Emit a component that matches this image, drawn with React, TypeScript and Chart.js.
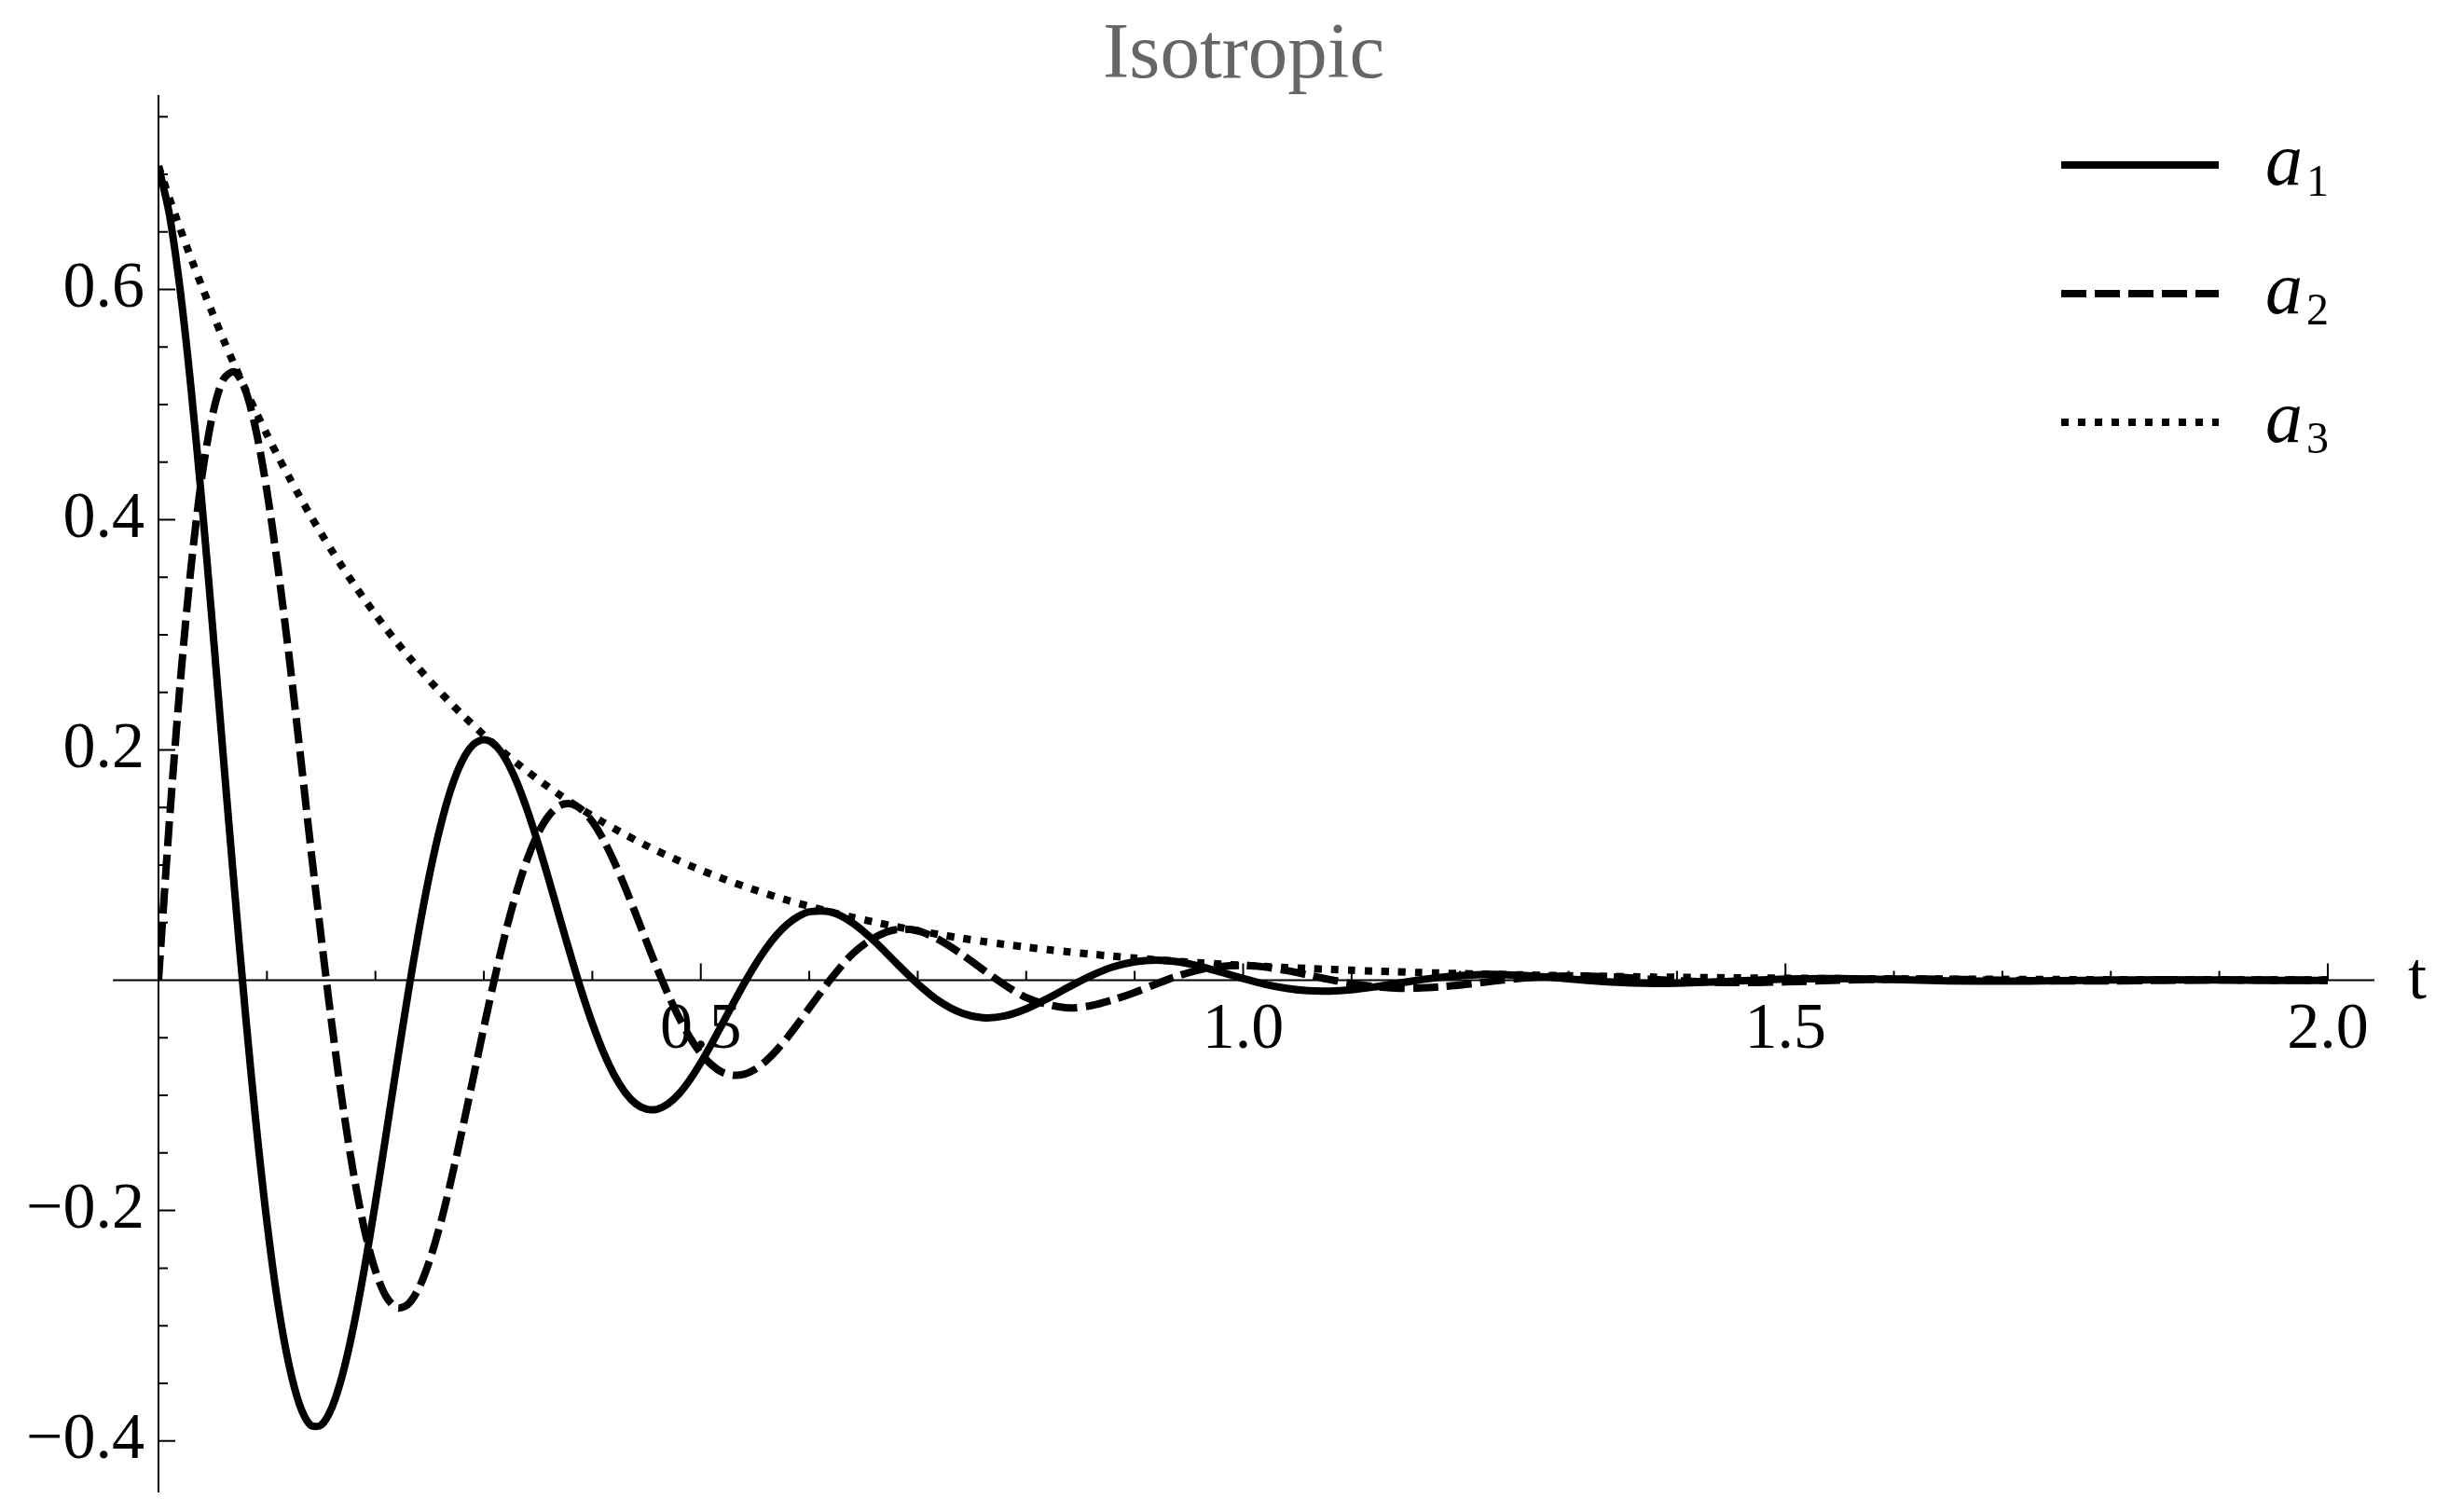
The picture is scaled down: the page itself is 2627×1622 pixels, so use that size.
import React, { useEffect, useRef } from 'react';
import { Chart, registerables } from 'chart.js';

Chart.register(...registerables);

// sample times read along the t axis (denser where the curves swing hardest)
const tValues = [
  0, 0.01, 0.02, 0.03, 0.04, 0.05, 0.06, 0.07, 0.08, 0.09,
  0.1, 0.11, 0.12, 0.13, 0.14, 0.15, 0.16, 0.17, 0.18, 0.19,
  0.2, 0.21, 0.22, 0.23, 0.24, 0.25, 0.26, 0.27, 0.28, 0.29,
  0.3, 0.31, 0.32, 0.33, 0.34, 0.35, 0.36, 0.37, 0.38, 0.39,
  0.4, 0.41, 0.42, 0.43, 0.44, 0.45, 0.46, 0.47, 0.48, 0.49,
  0.5, 0.51, 0.52, 0.53, 0.54, 0.55, 0.56, 0.57, 0.58, 0.59,
  0.6, 0.62, 0.64, 0.66, 0.68, 0.7, 0.72, 0.74, 0.76, 0.78,
  0.8, 0.82, 0.84, 0.86, 0.88, 0.9, 0.92, 0.94, 0.96, 0.98,
  1.0, 1.02, 1.04, 1.06, 1.08, 1.1, 1.12, 1.14, 1.16, 1.18,
  1.2, 1.22, 1.24, 1.26, 1.28, 1.3, 1.32, 1.34, 1.36, 1.38,
  1.4, 1.45, 1.5, 1.55, 1.6, 1.65, 1.7, 1.75, 1.8, 1.85,
  1.9, 1.95, 2.0,
];

const a1Values = [
  0.707, 0.6655, 0.5996, 0.5144, 0.4147, 0.3057, 0.1914, 0.0798, -0.0273, -0.125,
  -0.21, -0.2801, -0.3326, -0.3684, -0.3862, -0.3863, -0.3708, -0.3413, -0.3, -0.2496,
  -0.1931, -0.1328, -0.0715, -0.0122, 0.043, 0.0923, 0.1338, 0.167, 0.1905, 0.2045,
  0.209, 0.2046, 0.1922, 0.1728, 0.1478, 0.1187, 0.0871, 0.054, 0.0216, -0.0094,
  -0.0375, -0.062, -0.082, -0.0971, -0.1072, -0.112, -0.1119, -0.1072, -0.0985, -0.0863,
  -0.0716, -0.0551, -0.0377, -0.0199, -0.0027, 0.0132, 0.0274, 0.0394, 0.0488, 0.0555,
  0.0595, 0.0592, 0.0498, 0.034, 0.0152, -0.0031, -0.0183, -0.0283, -0.0325, -0.031,
  -0.0248, -0.0157, -0.0055, 0.004, 0.0116, 0.0161, 0.0175, 0.0161, 0.0122, 0.007,
  0.0016, -0.0034, -0.007, -0.0091, -0.0094, -0.0082, -0.0059, -0.003, -0.0001, 0.0024,
  0.0042, 0.005, 0.005, 0.0041, 0.0028, 0.0012, -0.0003, -0.0016, -0.0024, -0.0027,
  -0.0026, -0.0009, 0.001, 0.0014, 0.0006, -0.0005, -0.0008, -0.0004, 0.0002, 0.0004,
  0.0002, -0.0001, -0.0002,
];

const a2Values = [
  0, 0.137, 0.2578, 0.3587, 0.4373, 0.4917, 0.5222, 0.5284, 0.5128, 0.4773,
  0.4249, 0.3591, 0.2844, 0.2025, 0.1183, 0.0375, -0.0396, -0.1091, -0.1688, -0.2169,
  -0.2524, -0.2749, -0.2845, -0.2815, -0.2674, -0.2433, -0.2112, -0.1727, -0.1301, -0.0856,
  -0.0409, 0.002, 0.0415, 0.0763, 0.1053, 0.1277, 0.1432, 0.1517, 0.1532, 0.1483,
  0.1378, 0.1224, 0.1032, 0.0813, 0.0576, 0.0334, 0.0097, -0.0125, -0.0325, -0.0497,
  -0.0635, -0.0735, -0.08, -0.0825, -0.0816, -0.0773, -0.0701, -0.0606, -0.0495, -0.0371,
  -0.0242, 0.0012, 0.023, 0.037, 0.044, 0.043, 0.035, 0.023, 0.0093, -0.0039,
  -0.015, -0.021, -0.024, -0.022, -0.017, -0.0106, -0.0031, 0.0038, 0.0091, 0.0121,
  0.0129, 0.0115, 0.0085, 0.0046, 0.0006, -0.0029, -0.0054, -0.0068, -0.0068, -0.0058,
  -0.0041, -0.0019, 0.0002, 0.002, 0.0032, 0.0037, 0.0036, 0.0029, 0.0019, 0.0007,
  -0.0004, -0.002, -0.0014, 0.0001, 0.001, 0.0008, 0, -0.0005, -0.0005, -0.0001,
  0.0003, 0.0003, 0.0001,
];

const a3Values = [
  0.7071, 0.6794, 0.6527, 0.6271, 0.6026, 0.579, 0.5562, 0.5344, 0.5135, 0.4934,
  0.474, 0.4554, 0.4376, 0.4204, 0.4039, 0.3881, 0.3729, 0.3583, 0.3442, 0.3307,
  0.3178, 0.3053, 0.2933, 0.2818, 0.2708, 0.2602, 0.25, 0.2402, 0.2307, 0.2217,
  0.213, 0.2046, 0.1966, 0.1889, 0.1815, 0.1744, 0.1676, 0.161, 0.1547, 0.1486,
  0.1428, 0.1372, 0.1318, 0.1266, 0.1217, 0.1169, 0.1123, 0.1079, 0.1037, 0.0996,
  0.0957, 0.0919, 0.0884, 0.0849, 0.0816, 0.0784, 0.0753, 0.0723, 0.0695, 0.0668,
  0.0642, 0.0592, 0.0547, 0.0505, 0.0466, 0.043, 0.0397, 0.0366, 0.0338, 0.0312,
  0.0288, 0.0266, 0.0246, 0.0227, 0.0209, 0.0193, 0.0178, 0.0165, 0.0152, 0.014,
  0.013, 0.012, 0.011, 0.0102, 0.0094, 0.0087, 0.008, 0.0074, 0.0068, 0.0063,
  0.0058, 0.0054, 0.005, 0.0046, 0.0042, 0.0039, 0.0036, 0.0033, 0.0031, 0.0028,
  0.0026, 0.0021, 0.0018, 0.0014, 0.0012, 0.001, 0.0008, 0.0006, 0.0005, 0.0004,
  0.0004, 0.0003, 0.0002,
];

const seriesLabels = ['a1', 'a2', 'a3'];
const chartTitle = 'Isotropic';
const xAxisLabel = 't';

const xTickValues = [0.5, 1.0, 1.5, 2.0];
const xTickLabels = ['0.5', '1.0', '1.5', '2.0'];
const xTickMarks = [
  0.1, 0.2, 0.3, 0.4, 0.5, 0.6, 0.7, 0.8, 0.9, 1.0,
  1.1, 1.2, 1.3, 1.4, 1.5, 1.6, 1.7, 1.8, 1.9, 2.0,
];

const yTickValues = [-0.4, -0.2, 0.2, 0.4, 0.6];
const yTickLabels = ['\u22120.4', '\u22120.2', '0.2', '0.4', '0.6'];
const yTickMarks = [
  -0.4, -0.35, -0.3, -0.25, -0.2, -0.15, -0.1, -0.05,
  0.05, 0.1, 0.15, 0.2, 0.25, 0.3, 0.35, 0.4, 0.45, 0.5, 0.55, 0.6, 0.65, 0.7, 0.75,
];

const X_MIN = 0;
const X_MAX = 2.043;
const X_AXIS_START = -0.042;
const Y_MIN = -0.444;
const Y_MAX = 0.768;

const SERIF = '"Liberation Serif", "Times New Roman", serif';

const dashes: number[][] = [[], [27, 9], [8, 10]];

// Mathematica-style decorations: inward ticks, title, axis label "t", legend with subscripts
const axisDecor = {
  id: 'axisDecor',
  beforeDatasetsDraw(chart: Chart) {
    const { ctx, chartArea, scales } = chart;
    const xs = scales.x;
    const ys = scales.y;
    const y0 = ys.getPixelForValue(0);
    ctx.save();
    ctx.strokeStyle = '#000';
    ctx.lineWidth = 2;
    ctx.beginPath();
    ctx.moveTo(xs.getPixelForValue(X_AXIS_START), y0);
    ctx.lineTo(chartArea.right, y0);
    xTickMarks.forEach(v => {
      const px = xs.getPixelForValue(v);
      const len = xTickValues.includes(v) ? 18 : 10;
      ctx.moveTo(px, y0);
      ctx.lineTo(px, y0 - len);
    });
    yTickMarks.forEach(v => {
      const py = ys.getPixelForValue(v);
      const len = yTickValues.includes(v) ? 18 : 10;
      ctx.moveTo(chartArea.left, py);
      ctx.lineTo(chartArea.left + len, py);
    });
    ctx.stroke();
    ctx.restore();
  },
  afterDraw(chart: Chart) {
    const { ctx, chartArea, scales } = chart;
    const y0 = scales.y.getPixelForValue(0);
    ctx.save();

    // title, centred over the full plot range
    ctx.fillStyle = '#666666';
    ctx.font = `85px ${SERIF}`;
    ctx.textAlign = 'center';
    ctx.textBaseline = 'alphabetic';
    const cx = (scales.x.getPixelForValue(X_AXIS_START) + chartArea.right) / 2;
    ctx.fillText(chartTitle, cx, chartArea.top - 20);

    ctx.fillStyle = '#000';
    ctx.font = `72px ${SERIF}`;
    ctx.textAlign = 'left';
    ctx.textBaseline = 'middle';
    ctx.fillText(xAxisLabel, chartArea.right + 36, y0);

    // legend
    const x1 = chartArea.right - 336;
    const x2 = chartArea.right - 167;
    chart.data.datasets.forEach((ds, i) => {
      const yy = chartArea.top + 74 + i * 138;
      ctx.strokeStyle = '#000';
      ctx.lineWidth = 8;
      ctx.lineCap = 'butt';
      ctx.setLineDash(dashes[i]);
      ctx.beginPath();
      ctx.moveTo(x1, yy);
      ctx.lineTo(x2, yy);
      ctx.stroke();
      ctx.setLineDash([]);
      const label = String(ds.label);
      const base = label.slice(0, 1);
      const sub = label.slice(1);
      ctx.textBaseline = 'alphabetic';
      ctx.font = `italic 80px ${SERIF}`;
      const tx = x2 + 50;
      ctx.fillText(base, tx, yy + 21);
      const w = ctx.measureText(base).width;
      ctx.font = `48px ${SERIF}`;
      ctx.fillText(sub, tx + w + 4, yy + 33);
    });
    ctx.restore();
  },
};

export default function App() {
  const canvasRef = useRef<HTMLCanvasElement | null>(null);

  useEffect(() => {
    if (!canvasRef.current) return;
    const series = [a1Values, a2Values, a3Values];

    const chart = new Chart(canvasRef.current, {
      type: 'line',
      data: {
        datasets: series.map((vals, i) => ({
          label: seriesLabels[i],
          data: tValues.map((t, k) => ({ x: t, y: vals[k] })),
          borderColor: '#000',
          borderWidth: 8,
          borderDash: dashes[i],
          borderJoinStyle: 'round' as const,
          pointRadius: 0,
          tension: 0.3,
          fill: false,
        })),
      },
      options: {
        animation: false,
        responsive: true,
        maintainAspectRatio: false,
        devicePixelRatio: 1,
        layout: { padding: { top: 103, right: 80, bottom: 22, left: 0 } },
        plugins: {
          legend: { display: false },
          tooltip: { enabled: false },
          title: { display: false },
        },
        scales: {
          x: {
            type: 'linear',
            min: X_MIN,
            max: X_MAX,
            position: { y: 0 },
            afterFit: scale => {
              scale.paddingLeft = 0;
              scale.paddingRight = 0;
            },
            afterBuildTicks: scale => {
              scale.ticks = xTickValues.map(v => ({ value: v }));
            },
            ticks: {
              color: '#000',
              font: { family: SERIF, size: 70 },
              padding: 12,
              maxRotation: 0,
              autoSkip: false,
              callback: (_v, i) => xTickLabels[i],
            },
            grid: { display: false, drawTicks: false },
            border: { display: false },
          },
          y: {
            type: 'linear',
            min: Y_MIN,
            max: Y_MAX,
            position: 'left',
            afterFit: scale => {
              scale.width = 170;
              scale.paddingTop = 0;
              scale.paddingBottom = 0;
            },
            afterBuildTicks: scale => {
              scale.ticks = yTickValues.map(v => ({ value: v }));
            },
            ticks: {
              color: '#000',
              font: { family: SERIF, size: 70 },
              padding: 15,
              autoSkip: false,
              callback: (_v, i) => yTickLabels[i],
            },
            grid: { display: false, drawTicks: false },
            border: { display: true, color: '#000', width: 2 },
          },
        },
      },
      plugins: [axisDecor],
    });

    return () => chart.destroy();
  }, []);

  return (
    <div
      style={{
        position: 'fixed',
        left: 0,
        top: 0,
        width: 2627,
        height: 1622,
        background: '#fff',
      }}
    >
      <canvas ref={canvasRef} />
    </div>
  );
}
